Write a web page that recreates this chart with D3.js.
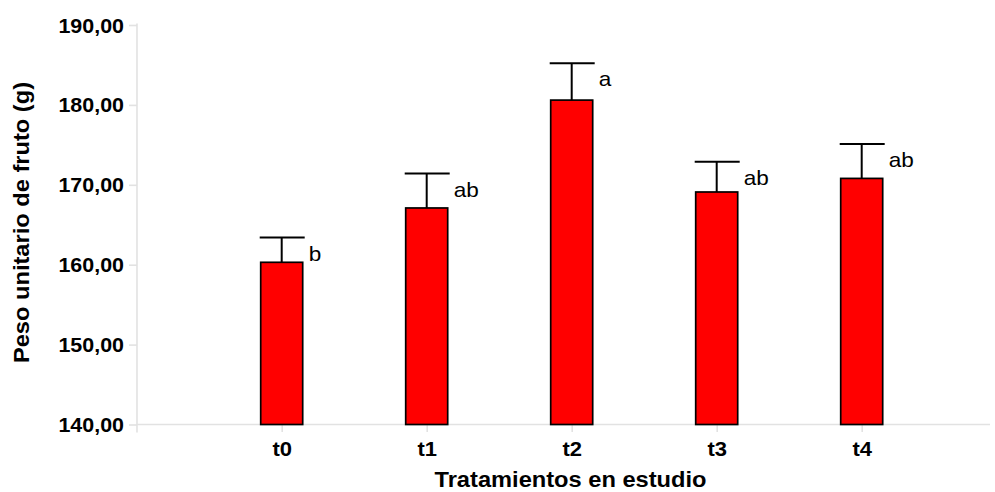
<!DOCTYPE html>
<html>
<head>
<meta charset="utf-8">
<script src="https://cdn.jsdelivr.net/npm/d3@7"></script>
<style>
  html, body { margin: 0; padding: 0; background: #ffffff; }
  svg { display: block; }
</style>
</head>
<body>
<svg id="chart" width="995" height="492"></svg>
<script>
// Mean fruit weight per treatment, with the upper error bar and the
// letters of the mean-comparison test.
const categories = ["t0", "t1", "t2", "t3", "t4"];
const means = [160.3, 167.1, 180.6, 169.1, 170.8];
const errors = [3.1, 4.3, 4.6, 3.8, 4.3];
const groupLetters = ["b", "ab", "a", "ab", "ab"];
const yTicks = [140, 150, 160, 170, 180, 190];
const xTitle = "Tratamientos en estudio";
const yTitle = "Peso unitario de fruto (g)";

const rows = categories.map((c, i) => ({
  cat: c, mean: means[i], upper: means[i] + errors[i], letter: groupLetters[i]
}));

const plot = { left: 137, right: 990, top: 25, bottom: 424.5 };
const barWidth = 42;
const axisGray = "#e2e2e2";
const font = "'Liberation Sans', Arial, Helvetica, sans-serif";
const stretch = 1.1; // glyphs are drawn slightly wide

const svg = d3.select("#chart");

const x = d3.scalePoint().domain(categories).range([281.7, 861.7]);
const y = d3.scaleLinear().domain([140, 190]).range([plot.bottom, plot.top]);

const locale = d3.formatLocale({ decimal: ",", thousands: ".", grouping: [3], currency: ["", " €"] });
const fmt = locale.format(".2f");

// ---- y axis ----
const yAxis = svg.append("g")
  .attr("transform", `translate(${plot.left},0)`)
  .call(d3.axisLeft(y).tickValues(yTicks).tickFormat(fmt).tickSize(8).tickPadding(0));
yAxis.select(".domain").remove();
yAxis.selectAll(".tick line").attr("stroke", axisGray).attr("stroke-width", 1.6);
yAxis.selectAll(".tick text")
  .attr("x", null).attr("dy", null)
  .attr("transform", `translate(-13,7) scale(${stretch},1)`)
  .attr("text-anchor", "end")
  .attr("fill", "#000")
  .style("font-family", font)
  .style("font-size", "19.5px")
  .style("font-weight", "bold");
svg.append("line")
  .attr("x1", plot.left).attr("x2", plot.left)
  .attr("y1", y(190) - 1.5).attr("y2", y(140) + 8)
  .attr("stroke", axisGray).attr("stroke-width", 1.6);

// ---- x axis ----
svg.append("line")
  .attr("x1", plot.left).attr("x2", plot.right)
  .attr("y1", y(140)).attr("y2", y(140))
  .attr("stroke", axisGray).attr("stroke-width", 1.6);
const xAxis = svg.append("g")
  .attr("transform", `translate(0,${y(140)})`)
  .call(d3.axisBottom(x).tickSize(7.5).tickPadding(0));
xAxis.select(".domain").remove();
xAxis.selectAll(".tick line").attr("stroke", axisGray).attr("stroke-width", 1.6);
xAxis.selectAll(".tick text")
  .attr("y", null).attr("dy", null)
  .attr("transform", `translate(0,31.5) scale(${stretch},1)`)
  .attr("text-anchor", "middle")
  .attr("fill", "#000")
  .style("font-family", font)
  .style("font-size", "20px")
  .style("font-weight", "bold");

// ---- bars ----
svg.append("g").selectAll("rect")
  .data(rows)
  .join("rect")
  .attr("x", d => x(d.cat) - barWidth / 2)
  .attr("y", d => y(d.mean))
  .attr("width", barWidth)
  .attr("height", d => y(140) - y(d.mean))
  .attr("fill", "#ff0000")
  .attr("stroke", "#000")
  .attr("stroke-width", 1.7);

// ---- error bars (upper side) ----
const eb = svg.append("g").attr("stroke", "#000").attr("stroke-width", 2);
eb.selectAll("line.stem")
  .data(rows)
  .join("line")
  .attr("class", "stem")
  .attr("x1", d => x(d.cat)).attr("x2", d => x(d.cat))
  .attr("y1", d => y(d.mean)).attr("y2", d => y(d.upper));
eb.selectAll("line.cap")
  .data(rows)
  .join("line")
  .attr("class", "cap")
  .attr("x1", d => x(d.cat) - barWidth / 2 - 1).attr("x2", d => x(d.cat) + barWidth / 2 + 2)
  .attr("y1", d => y(d.upper)).attr("y2", d => y(d.upper));

// ---- group letters ----
svg.append("g").selectAll("text")
  .data(rows)
  .join("text")
  .attr("transform", d => `translate(${x(d.cat) + barWidth / 2 + 6},${y(d.upper) + 23}) scale(${stretch},1)`)
  .attr("fill", "#000")
  .style("font-family", font)
  .style("font-size", "20.5px")
  .text(d => d.letter);

// ---- axis titles ----
svg.append("text")
  .attr("transform", `translate(${(plot.left + plot.right) / 2 + 7},487) scale(${stretch},1)`)
  .attr("text-anchor", "middle")
  .attr("fill", "#000")
  .style("font-family", font)
  .style("font-size", "21.5px")
  .style("font-weight", "bold")
  .text(xTitle);

svg.append("text")
  .attr("transform", `translate(28.5,222.5) rotate(-90) scale(${stretch},1)`)
  .attr("text-anchor", "middle")
  .attr("fill", "#000")
  .style("font-family", font)
  .style("font-size", "21.5px")
  .style("font-weight", "bold")
  .text(yTitle);
</script>
</body>
</html>
